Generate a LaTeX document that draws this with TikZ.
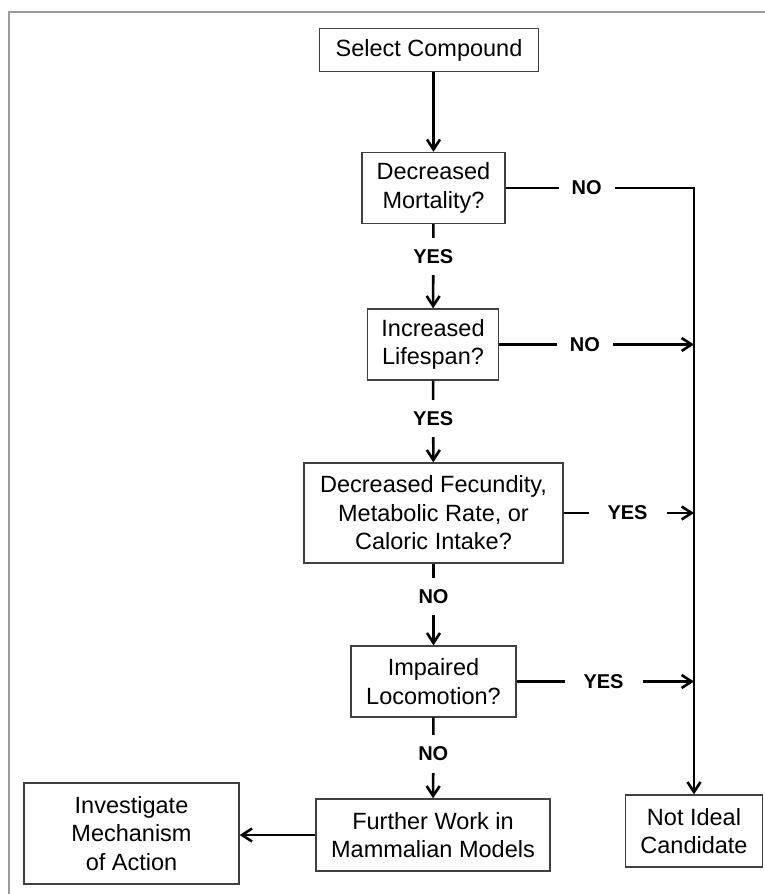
\documentclass[tikz,border=0pt]{standalone}
\usepackage{fontspec}
\setmainfont{Liberation Sans}
\usetikzlibrary{arrows.meta,calc}
\tikzset{
    box/.style={draw=black!75, line width=1.3pt, align=center, inner sep=2pt,
        font=\fontsize{23.5}{28.5}\selectfont},
    flow/.style={line width=2.6pt, -{Straight Barb[length=10pt,width=13pt]}},
    ans/.style={fill=white, inner xsep=13pt, inner ysep=11.5pt,
        font=\bfseries\fontsize{20}{24}\selectfont},
}

\begin{document}
\begin{tikzpicture}[x=1pt,y=-1pt]
                \def\yes{YES}
                \def\no{NO}
                \useasboundingbox (0,0) rectangle (765,894);
                \draw[black!40, line width=1.5pt] (9,894) -- (9,12) -- (765,12);
                \node[box, minimum width=219pt, minimum height=43pt] (S) at (429,50) {Select Compound};
                \node[box, minimum width=143pt, minimum height=71pt] (M) at (433.5,188) {Decreased\\Mortality?};
                \node[box, minimum width=131pt, minimum height=71pt] (L) at (433,344.5) {Increased\\Lifespan?};
                \node[box, minimum width=259pt, minimum height=100pt] (F) at (433.5,513) {Decreased Fecundity,\\Metabolic Rate, or\\Caloric Intake?};
                \node[box, minimum width=165pt, minimum height=71pt] (P) at (433.5,681.5) {Impaired\\Locomotion?};
                \node[box, minimum width=234pt, minimum height=72pt] (W) at (433,835) {Further Work in\\Mammalian Models};
                \node[box, minimum width=215pt, minimum height=101pt] (I) at (131.5,833.5) {Investigate\\Mechanism\\of Action};
                \node[box, minimum width=137pt, minimum height=72pt] (C) at (694,831) {Not Ideal\\Candidate};
                \coordinate (T) at (694,188);
                \draw[flow] (M |- S.south) -- (M.north);
                \draw[flow] (M) -- node[ans, pos=.38] {\yes} (L);
                \draw[flow] (L) -- node[ans, pos=.46] {\yes} (F);
                \draw[flow] (F) -- node[ans, pos=.40] {\no} (P);
                \draw[flow] (P) -- node[ans, pos=.45] {\no} (W);
                \draw[flow] (W.west) -- (W.west -| I.east);
                \draw[flow] (M) -- node[ans, pos=.43] {\no} (T) -- (C);
                \draw[flow] (L) -- node[ans, pos=.44] {\no} (L -| T);
                \draw[flow] (F) -- node[ans, pos=.49, inner xsep=19pt] {\yes} (F -| T);
                \draw[flow] (P) -- node[ans, pos=.49, inner xsep=19pt] {\yes} (P -| T);
                % \draw[flow] (W) -- (C);
            \end{tikzpicture}
\end{document}
